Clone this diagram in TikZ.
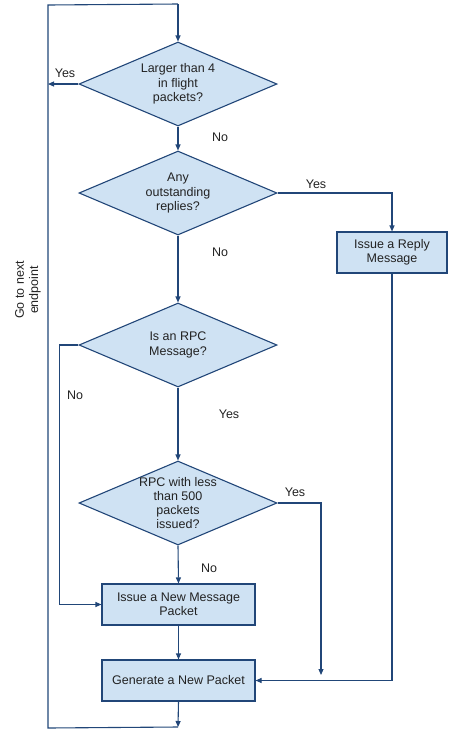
\documentclass[tikz,border=0pt]{standalone}
\usepackage{fontspec}
\setmainfont{Liberation Sans}
\usepackage{tikz}
\usetikzlibrary{shapes.geometric, arrows.meta}
\definecolor{edge}{RGB}{33,70,120}
\definecolor{boxfill}{RGB}{207,226,243}
\definecolor{txt}{RGB}{34,34,34}

\begin{document}
\begin{tikzpicture}[x=1pt, y=-1pt, line width=1.1pt,
	every node/.style={font=\fontsize{12.5}{14.3}\selectfont, text=txt},
	dec/.style={draw=edge, fill=boxfill, diamond, inner sep=0pt,
		minimum width=198pt, minimum height=84pt},
	proc/.style={draw=edge, fill=boxfill, rectangle, align=center,
		minimum height=41pt, inner sep=0pt},
	arr/.style={draw=edge, -{Triangle[length=6pt,width=5pt]}},
	lin/.style={draw=edge}]
	\useasboundingbox (0,0) rectangle (448,729);
	% decisions
	\node[dec, label={[align=center]center:Larger than 4\\in flight\\packets?}] (d1) at (178,84) {};
	\node[dec, label={[align=center]center:Any\\outstanding\\replies?}] (d2) at (178,193) {};
	\node[dec, label={[align=center]center:Is an RPC\\Message?}] (d3) at (178,345) {};
	\node[dec, label={[align=center]center:RPC with less\\than 500\\packets\\issued?}] (d4) at (178,503) {};
	% processes
	\node[proc, minimum width=110pt] (reply) at (392,252.5) {Issue a Reply\\Message};
	\node[proc, minimum width=153pt] (newmsg) at (178.5,604.5) {Issue a New Message\\Packet};
	\node[proc, minimum width=153pt] (gen) at (178.5,680.5) {Generate a New Packet};
	% loop corners
	\coordinate (tl) at (48,5);
	\coordinate (tr) at (178,4);
	\coordinate (bl) at (48,728);
	\coordinate (br) at (178,727);
	\coordinate (yl) at (48,84);
	\coordinate (yend) at (321,675);
	\node[rotate=90, align=center] (goto) at (28,290) {Go to next\\endpoint};
	% connectors
	\draw[arr] (gen.south) -- (br);
	\draw[lin] (br) -- (bl) -- (tl) -- (tr);
	\draw[arr] (tr) -- (d1.north);
	\draw[arr] (d1.west) -- (yl);
	\draw[arr] (d1.south) -- (d2.north);
	\draw[arr] (d2.east) -| (reply.north);
	\draw[arr] (d2.south) -- (d3.north);
	\draw[arr] (d3.west) -- +(-19,0) |- (newmsg.west);
	\draw[arr] (d3.south) -- (d4.north);
	\draw[arr] (d4.east) -| (yend);
	\draw[arr] (d4.south) -- (newmsg.north);
	\draw[arr] (newmsg.south) -- (gen.north);
	\draw[arr] (reply.south) |- (gen.east);
	% labels
	\node (y1) at (65,73) {Yes};
	\node (n1) at (220,137) {No};
	\node (y2) at (316,184) {Yes};
	\node (n2) at (220,252) {No};
	\node (n3) at (75,395) {No};
	\node (y3) at (229,414) {Yes};
	\node (y4) at (295,492) {Yes};
	\node (n4) at (209,568) {No};
\end{tikzpicture}
\end{document}
